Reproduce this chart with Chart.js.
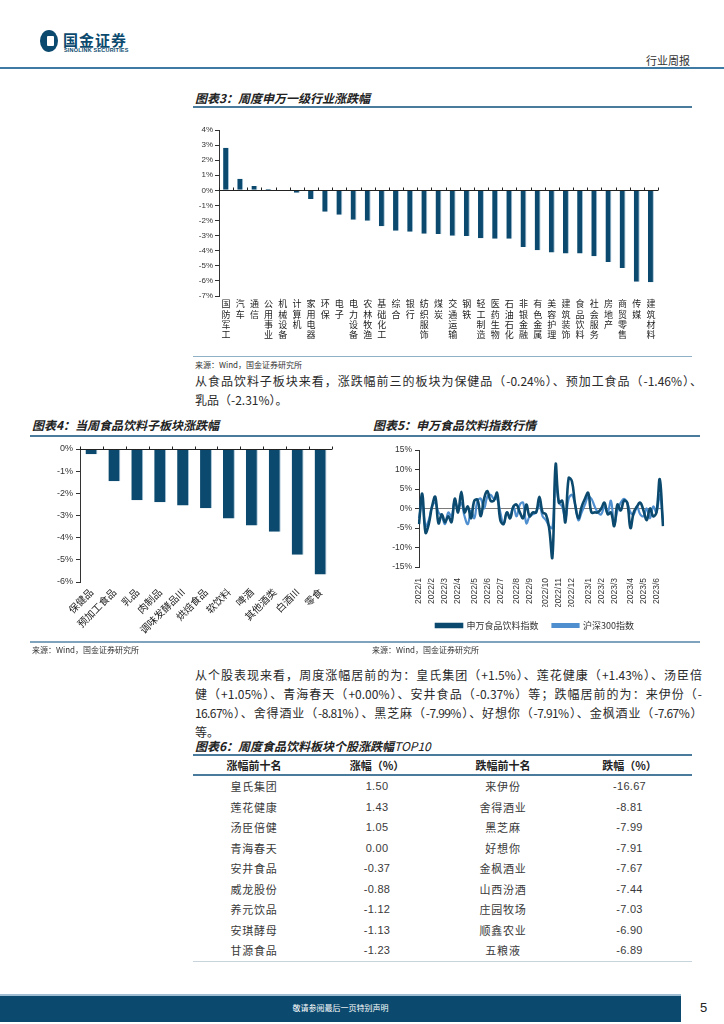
<!DOCTYPE html>
<html>
<head>
<meta charset="utf-8">
<script src="https://cdn.jsdelivr.net/npm/chart.js@4.4.0/dist/chart.umd.min.js"></script>
<style>
body { margin: 0; background: #fff; font-family: "Noto Sans CJK SC", sans-serif; color: #333; }
#page { position: relative; width: 724px; height: 1024px; overflow: hidden; }
.abs { position: absolute; }
.title { position: absolute; font-weight: bold; font-style: italic; font-size: 12px; color: #222; white-space: nowrap; }
.rule { position: absolute; height: 2px; background: #4a7b9d; }
.src { position: absolute; font-size: 8px; color: #333; white-space: nowrap; }
.para div { width: 507px; font-size: 12px; line-height: 19px; color: #2a2a2a; white-space: nowrap; text-align: justify; text-align-last: justify; }
.para div.last { text-align-last: left; }
table { border-collapse: collapse; font-size: 11px; color: #3a3a3a; }
td, th { text-align: center; padding: 0; }
th { font-weight: bold; height: 18px; color: #222; }
td { height: 20.5px; letter-spacing: 0.8px; }
td.num { font-family: "Liberation Sans", Arial, sans-serif; letter-spacing: 0.3px; }
</style>
</head>
<body>
<div id="page">
  <!-- header -->
  <div class="abs" style="left:40px;top:30px;width:18px;height:22px;border-radius:50%;background:#0b4a6e;"></div>
  <div class="abs" style="left:47px;top:36px;width:7px;height:10px;background:#fff;border-radius:1px;"></div>
  <div class="abs" style="left:63px;top:32px;font-size:15px;line-height:15px;font-weight:bold;color:#0b4a6e;letter-spacing:1px;">国金证券</div>
  <div class="abs" style="left:64px;top:47px;font-size:5.5px;line-height:6px;font-weight:bold;color:#0b4a6e;font-family:'Liberation Sans',Arial;letter-spacing:0.2px;">SINOLINK SECURITIES</div>
  <div class="abs" style="left:646px;top:52px;font-size:11px;color:#333;">行业周报</div>
  <div class="rule" style="left:0;top:67px;width:724px;background:#3f7aa5;"></div>

  <!-- chart 3 -->
  <div class="title" style="left:195px;top:89px;">图表3：周度申万一级行业涨跌幅</div>
  <div class="rule" style="left:193px;top:106px;width:499px;"></div>
  <div class="abs" style="left:190px;top:115px;width:500px;height:240px;"><canvas id="c3" width="500" height="240"></canvas></div>
  <div class="rule" style="left:193px;top:356px;width:499px;height:1px;background:#8fb0c6;"></div>
  <div class="src" style="left:195px;top:359px;">来源：Wind，国金证券研究所</div>

  <div class="para abs" style="left:195px;top:371px;">
    <div>从食品饮料子板块来看，涨跌幅前三的板块为保健品（-0.24%）、预加工食品（-1.46%）、</div>
    <div class="last">乳品（-2.31%）。</div>
  </div>

  <!-- chart 4 & 5 -->
  <div class="title" style="left:32px;top:416px;">图表4：当周食品饮料子板块涨跌幅</div>
  <div class="title" style="left:373px;top:416px;">图表5：申万食品饮料指数行情</div>
  <div class="rule" style="left:30px;top:435px;width:670px;"></div>
  <div class="abs" style="left:30px;top:440px;width:310px;height:205px;"><canvas id="c4" width="310" height="205"></canvas></div>
  <div class="abs" style="left:370px;top:440px;width:330px;height:200px;"><canvas id="c5" width="330" height="200"></canvas></div>
  <div class="rule" style="left:30px;top:641px;width:670px;height:2px;background:#7fa3bd;"></div>
  <div class="src" style="left:32px;top:644px;">来源：Wind，国金证券研究所</div>
  <div class="src" style="left:372px;top:644px;">来源：Wind，国金证券研究所</div>

  <div class="para abs" style="left:195px;top:665px;">
    <div>从个股表现来看，周度涨幅居前的为：皇氏集团（+1.5%）、莲花健康（+1.43%）、汤臣倍</div>
    <div>健（+1.05%）、青海春天（+0.00%）、安井食品（-0.37%）等；跌幅居前的为：来伊份（-</div>
    <div style="letter-spacing:-0.6px;">16.67%）、舍得酒业（-8.81%）、黑芝麻（-7.99%）、好想你（-7.91%）、金枫酒业（-7.67%）</div>
    <div class="last">等。</div>
  </div>

  <!-- table 6 -->
  <div class="title" style="left:195px;top:737px;">图表6：周度食品饮料板块个股涨跌幅<span style="font-weight:normal;">TOP10</span></div>
  <div class="rule" style="left:193px;top:754px;width:499px;"></div>
  <table class="abs" id="t6" style="left:193px;top:756px;width:499px;">
    <colgroup><col style="width:122px"><col style="width:124px"><col style="width:128px"><col style="width:125px"></colgroup>
    <thead><tr style="border-bottom:2px solid #4a7b9d;"><th>涨幅前十名</th><th>涨幅（%）</th><th>跌幅前十名</th><th>跌幅（%）</th></tr></thead>
    <tbody id="t6body" style="border-bottom:1px solid #c8d4dc;"></tbody>
  </table>

  <!-- footer -->
  <div class="abs" style="left:0;top:994px;width:681px;height:2px;background:#9fbdd3;"></div>
  <div class="abs" style="left:0;top:996px;width:681px;height:26px;background:#0b4a6e;"></div>
  <div class="abs" style="left:0;top:1002px;width:681px;text-align:center;font-size:8px;color:#fff;">敬请参阅最后一页特别声明</div>
  <div class="abs" style="left:700px;top:1000px;font-size:13px;color:#222;font-family:'Liberation Sans',Arial;">5</div>
</div>

<script>
// 图表3 申万一级行业
const industries = ['国防军工','汽车','通信','公用事业','机械设备','计算机','家用电器','环保','电子','电力设备','农林牧渔','基础化工','综合','银行','纺织服饰','煤炭','交通运输','钢铁','轻工制造','医药生物','石油石化','非银金融','有色金属','美容护理','建筑装饰','食品饮料','社会服务','房地产','商贸零售','传媒','建筑材料'];
const industryChg = [2.83,0.77,0.29,0.09,-0.05,-0.15,-0.57,-1.41,-1.61,-1.94,-2.01,-2.38,-2.67,-2.74,-2.87,-2.89,-3.0,-3.02,-3.18,-3.2,-3.2,-3.75,-3.97,-4.11,-4.19,-4.19,-4.37,-4.75,-5.14,-6.05,-6.09];

// 图表4 食品饮料子板块
const subSectors = ['保健品','预加工食品','乳品','肉制品','调味发酵品III','烘焙食品','软饮料','啤酒','其他酒类','白酒III','零食'];
const subSectorChg = [-0.24,-1.46,-2.31,-2.40,-2.55,-2.67,-3.14,-3.45,-3.73,-4.77,-5.66];

// 图表5 周度涨跌幅
const monthTicks = ['2022/1','2022/2','2022/3','2022/4','2022/5','2022/6','2022/7','2022/8','2022/9','2022/10','2022/11','2022/12','2023/1','2023/2','2023/3','2023/4','2023/5','2023/6'];
const monthTickWeek = [0,4,8,12,17,21,25,30,34,39,43,47,52,56,60,65,69,73];
const foodIndex = [-4.0,3.8,-6.2,-4.0,0.5,3.0,-3.8,-1.5,-3.5,-2.0,-3.5,2.5,-1.0,4.3,-1.0,0.5,-2.5,2.0,2.2,-2.0,2.5,4.5,2.0,2.0,4.0,-3.0,-4.0,-1.0,-2.5,0.5,1.0,-1.0,-2.5,1.0,-2.0,-1.0,-1.0,3.0,-1.0,-1.5,-5.0,-12.5,11.3,1.5,2.0,-3.5,7.8,7.0,1.0,-2.5,0.5,2.5,4.0,-1.0,-1.0,-1.0,0.0,1.5,-1.5,-1.0,-4.5,1.0,-0.5,2.0,1.5,-5.0,-1.0,0.5,1.5,-0.5,-3.0,0.0,-2.0,-1.0,7.5,-4.5];
const hs300 = [-2.5,1.5,-4.5,-3.0,0.5,1.5,-1.0,-2.0,-4.0,-1.0,-2.0,2.0,0.0,1.5,-2.0,-4.0,-0.5,-2.5,2.0,2.5,0.0,3.0,3.5,2.5,2.5,-1.0,-4.0,-1.0,-2.0,0.5,-2.0,1.0,1.5,-3.8,-2.0,-1.5,-1.0,1.0,-2.0,-3.0,-4.5,-5.0,7.0,1.5,0.5,-2.5,2.5,3.5,1.0,-3.0,-1.0,1.0,3.0,2.5,0.5,-1.0,-1.5,0.5,-1.0,2.0,-4.0,-0.5,1.5,2.5,1.5,-1.0,-1.5,0.5,-1.5,-2.0,0.0,-2.5,0.5,-1.0,3.5,-3.0];
const seriesNames = ['申万食品饮料指数','沪深300指数'];

// 图表6
const gainNames = ['皇氏集团','莲花健康','汤臣倍健','青海春天','安井食品','威龙股份','养元饮品','安琪酵母','甘源食品'];
const gainPct = ['1.50','1.43','1.05','0.00','-0.37','-0.88','-1.12','-1.13','-1.23'];
const lossNames = ['来伊份','舍得酒业','黑芝麻','好想你','金枫酒业','山西汾酒','庄园牧场','顺鑫农业','五粮液'];
const lossPct = ['-16.67','-8.81','-7.99','-7.91','-7.67','-7.44','-7.03','-6.90','-6.89'];

const NAVY = '#0b4a6e';
const LIGHT = '#4f8fcf';
const tickFont = { family: "'Liberation Sans', Arial, sans-serif", size: 8 };
const cjkFont = { family: "'Noto Sans CJK SC', sans-serif", size: 9 };

// zero line + small up ticks on category boundaries
const zeroAxis = {
  id: 'zeroAxis',
  afterDatasetsDraw(chart, args, opts) {
    if (!opts.on) return;
    const x = chart.scales.x, y = chart.scales.y, ctx = chart.ctx;
    const y0 = Math.round(y.getPixelForValue(0)) + 0.5;
    const n = chart.data.labels.length;
    ctx.save();
    ctx.strokeStyle = opts.color;
    ctx.lineWidth = 1;
    ctx.beginPath();
    ctx.moveTo(x.left, y0);
    ctx.lineTo(x.right, y0);
    for (let i = 0; i <= n; i++) {
      const px = Math.round(x.left + (x.right - x.left) * i / n) + 0.5;
      ctx.moveTo(px, y0);
      ctx.lineTo(px, y0 - 3);
    }
    ctx.stroke();
    ctx.restore();
  }
};

function yAxis(min, max, step, width) {
  return {
    min: min, max: max,
    ticks: { stepSize: step, font: tickFont, color: '#333', padding: 2, callback: v => v + '%' },
    grid: { drawOnChartArea: false, drawTicks: true, tickLength: 4, color: '#333' },
    border: { display: true, color: '#333', width: 1 },
    afterFit: s => { s.width = width; }
  };
}

new Chart(document.getElementById('c3'), {
  type: 'bar',
  data: {
    labels: industries.map(s => s.split('')),
    datasets: [{ data: industryChg, backgroundColor: NAVY, borderColor: '#a8c4d8', borderWidth: { right: 1, left: 0, top: 0, bottom: 0 }, borderSkipped: false, barPercentage: 0.42, categoryPercentage: 1 }]
  },
  options: {
    responsive: false, animation: false,
    layout: { padding: { left: 0, top: 15, right: 32, bottom: 0 } },
    plugins: { legend: { display: false }, tooltip: { enabled: false }, zeroAxis: { on: true, color: '#222' } },
    scales: {
      x: {
        grid: { display: false, drawTicks: false }, border: { display: false },
        ticks: { font: Object.assign({}, cjkFont, { size: 9, lineHeight: 1.12 }), color: '#222', maxRotation: 0, minRotation: 0, autoSkip: false, padding: 3 },
        afterFit: s => { s.height = 59; }
      },
      y: yAxis(-7, 4, 1, 29)
    }
  },
  plugins: [zeroAxis]
});

new Chart(document.getElementById('c4'), {
  type: 'bar',
  data: {
    labels: subSectors,
    datasets: [{ data: subSectorChg, backgroundColor: NAVY, borderColor: '#a8c4d8', borderWidth: { right: 1, left: 0, top: 0, bottom: 0 }, borderSkipped: false, barPercentage: 0.52, categoryPercentage: 1 }]
  },
  options: {
    responsive: false, animation: false,
    layout: { padding: { left: 0, top: 9, right: 8, bottom: 0 } },
    plugins: { legend: { display: false }, tooltip: { enabled: false }, zeroAxis: { on: true, color: '#222' } },
    scales: {
      x: {
        grid: { display: false, drawTicks: false }, border: { display: false },
        ticks: { font: Object.assign({}, cjkFont, { size: 10 }), color: '#222', maxRotation: 45, minRotation: 45, autoSkip: false, padding: 4 },
        afterFit: s => { s.height = 63; }
      },
      y: Object.assign(yAxis(-6, 0, 1, 50), { ticks: { stepSize: 1, font: { family: tickFont.family, size: 9 }, color: '#333', padding: 3, callback: v => v + '%' } })
    }
  },
  plugins: [zeroAxis]
});

const weekLabels = foodIndex.map((_, i) => {
  const k = monthTickWeek.indexOf(i);
  return k >= 0 ? monthTicks[k] : '';
});

new Chart(document.getElementById('c5'), {
  type: 'line',
  data: {
    labels: weekLabels,
    datasets: [
      { label: seriesNames[0], data: foodIndex, borderColor: NAVY, backgroundColor: NAVY, borderWidth: 2.6, pointRadius: 0, tension: 0.4 },
      { label: seriesNames[1], data: hs300, borderColor: LIGHT, backgroundColor: LIGHT, borderWidth: 2.2, pointRadius: 0, tension: 0.4 }
    ]
  },
  options: {
    responsive: false, animation: false,
    layout: { padding: { top: 10, left: 0, right: 0, bottom: 0 } },
    plugins: {
      tooltip: { enabled: false },
      legend: {
        position: 'bottom',
        labels: { boxWidth: 26, boxHeight: 3, padding: 14, color: '#333', font: { family: "'Noto Sans CJK SC', sans-serif", size: 9 } }
      }
    },
    scales: {
      x: {
        offset: false,
        grid: { display: false }, border: { display: false },
        ticks: { font: { family: tickFont.family, size: 8.5 }, color: '#333', maxRotation: 90, minRotation: 90, autoSkip: false, padding: 3 },
        afterFit: s => { s.height = 40; }
      },
      y: {
        min: -15, max: 15,
        ticks: { stepSize: 5, font: { family: tickFont.family, size: 8.5 }, color: '#333', padding: 3, callback: v => v + '%' },
        grid: { drawTicks: true, tickLength: 4, color: ctx => ctx.tick && ctx.tick.value === 0 ? '#7a7a7a' : 'rgba(0,0,0,0)', tickColor: '#333' },
        border: { display: true, color: '#333', width: 1 },
        afterFit: s => { s.width = 49; }
      },
      // empty right-hand spacer so the plot ends where the reference does
      spacer: {
        type: 'linear', position: 'right', display: true,
        ticks: { display: false }, grid: { display: false, drawTicks: false }, border: { display: false },
        afterFit: s => { s.width = 37; }
      }
    }
  }
});

// table rows
const tb = document.getElementById('t6body');
gainNames.forEach((name, i) => {
  const tr = document.createElement('tr');
  tr.innerHTML = '<td>' + name + '</td><td class="num">' + gainPct[i] + '</td><td>' + lossNames[i] + '</td><td class="num">' + lossPct[i] + '</td>';
  tb.appendChild(tr);
});
</script>
</body>
</html>
